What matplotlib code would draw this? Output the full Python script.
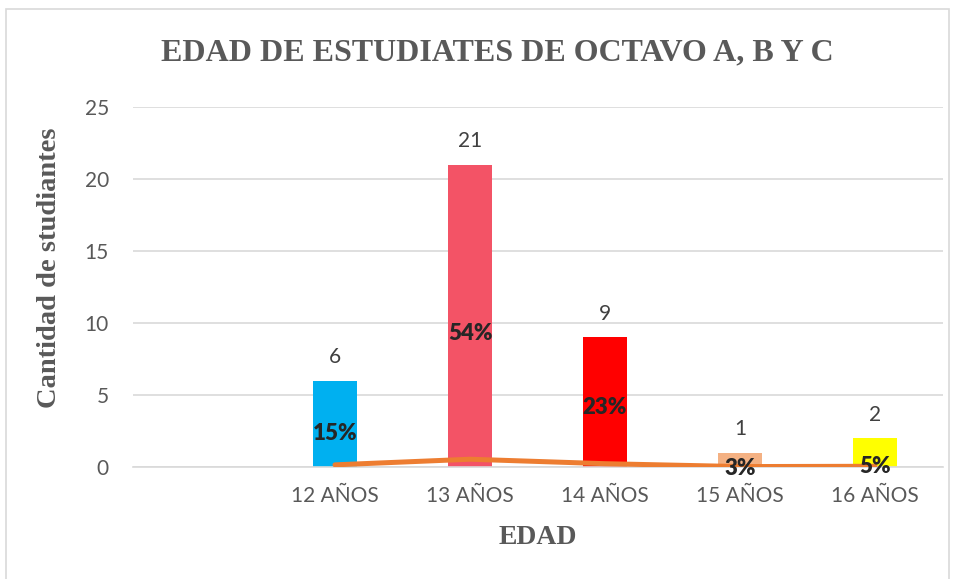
import matplotlib.pyplot as plt
import matplotlib.patches as mpatches
import numpy as np

# data
categories = ['12 AÑOS', '13 AÑOS', '14 AÑOS', '15 AÑOS', '16 AÑOS']
counts = [6, 21, 9, 1, 2]
shares = [0.15, 0.54, 0.23, 0.03, 0.05]
pct_labels = ['15%', '54%', '23%', '3%', '5%']
bar_colors = ['#00B0F0', '#F35366', '#FF0000', '#F4B183', '#FFFF00']

# where the percent labels sit (y, in data units) - moved by hand in original
pct_label_y = [2.35, 9.3, 4.15, -0.1, 0.05]

sans = ['Lato', 'DejaVu Sans']
serif = ['Liberation Serif', 'DejaVu Serif']
grey = '#595959'

fig = plt.figure(figsize=(9.58, 5.79), dpi=100)

# light frame round the chart
fig.patches.append(mpatches.Rectangle((6 / 958, -0.05), 943 / 958, 1.05 - 9 / 579,
                                      transform=fig.transFigure, fill=False,
                                      edgecolor='#D9D9D9', lw=1.2))

ax = fig.add_axes([132.5 / 958, 112 / 579, 810 / 958, 360 / 579])

x = np.arange(1, len(categories) + 1)
ax.bar(x, counts, width=0.32, color=bar_colors, zorder=2)
ax.plot(x, shares, color='#ED7D31', lw=3.6, solid_capstyle='round',
        solid_joinstyle='round', zorder=3)

for xi, c in zip(x, counts):
    ax.annotate(str(c), (xi, c), xytext=(0, 17), textcoords='offset points',
                ha='center', va='center', fontsize=15, color='#404040', family=sans)

for xi, y, lab in zip(x, pct_label_y, pct_labels):
    ax.text(xi, y, lab, ha='center', va='center', fontsize=16, fontweight='heavy',
            color='#262626', family=sans, zorder=4)

ax.set_xlim(-0.5, 5.5)
ax.set_ylim(0, 25)
ax.set_yticks(range(0, 26, 5))
ax.set_xticks(range(0, 6))
ax.set_xticklabels([''] + categories)
ax.tick_params(axis='both', length=0, labelsize=15, labelcolor=grey)
ax.tick_params(axis='y', pad=17)
ax.tick_params(axis='x', pad=14)
for lab in ax.get_xticklabels() + ax.get_yticklabels():
    lab.set_family(sans)

ax.grid(axis='y', color='#D9D9D9', lw=1.2, zorder=0)
ax.set_axisbelow(True)
for s in ['top', 'right', 'left']:
    ax.spines[s].set_visible(False)
ax.spines['bottom'].set_color('#D9D9D9')
ax.spines['bottom'].set_linewidth(1.2)

fig.text(497 / 958, 1 - 53 / 579, 'EDAD DE ESTUDIATES DE OCTAVO A, B Y C',
         ha='center', va='center', fontsize=23, fontweight='bold', color=grey, family=serif)
fig.text(50 / 958, 1 - 268 / 579, 'Cantidad de studiantes', rotation=90,
         ha='center', va='center', fontsize=20.5, fontweight='bold', color=grey, family=serif)
fig.text(538 / 958, 1 - 537 / 579, 'EDAD', ha='center', va='center',
         fontsize=20, fontweight='bold', color=grey, family=serif)

fig.savefig('out.png', dpi=100)
